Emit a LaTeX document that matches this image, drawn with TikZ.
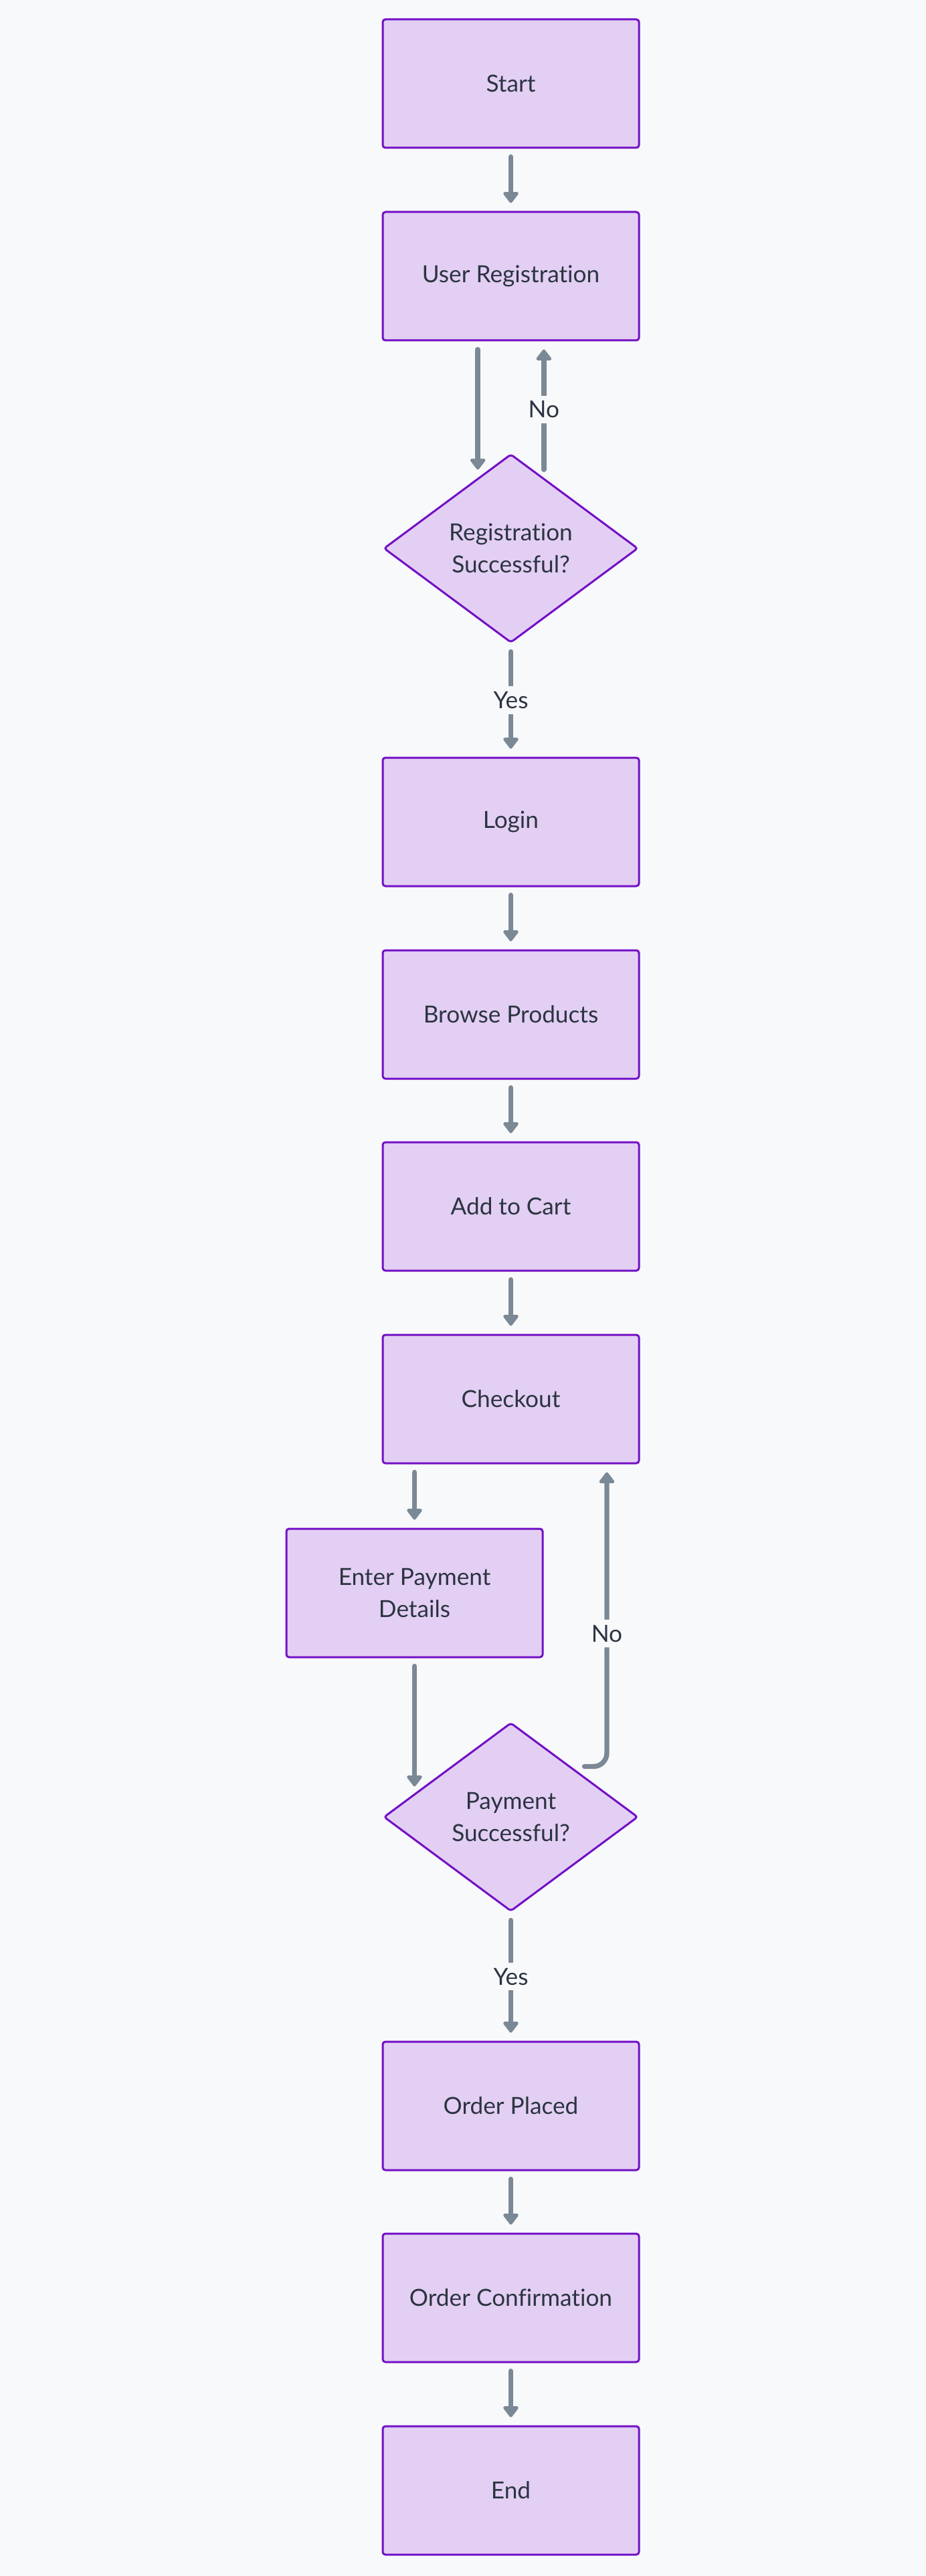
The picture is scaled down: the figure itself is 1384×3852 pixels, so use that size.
\documentclass[tikz,border=0pt]{standalone}
\usepackage{fontspec}
\setmainfont{Lato}[Ligatures=NoCommon]
\usetikzlibrary{shapes.geometric, arrows.meta}
\definecolor{bgcol}{HTML}{F8F9FB}
\definecolor{boxfill}{HTML}{E3CFF3}
\definecolor{boxline}{HTML}{7310C6}
\definecolor{arrowcol}{HTML}{7B8895}
\definecolor{txtcol}{HTML}{2B3441}

\begin{document}
\begin{tikzpicture}[x=0.5pt, y=-0.5pt,
    every node/.style={font=\fontsize{17.6}{24}\selectfont, text=txtcol},
    box/.style={draw=boxline, fill=boxfill, line width=1.5pt, rounded corners=2pt,
        minimum width=191.5pt, minimum height=96pt, align=center},
    decision/.style={diamond, draw=boxline, fill=boxfill, line width=1.5pt, rounded corners=2pt,
        minimum width=190pt, minimum height=141pt, inner sep=0pt, align=center},
    flow/.style={draw=arrowcol, line width=3.7pt, line cap=round,
        -{Triangle[width=13pt, length=9pt, round]}, shorten <=6pt, shorten >=6pt},
    lbl/.style={fill=bgcol, inner sep=4pt}]
        \fill[bgcol] (0,0) rectangle (1384,3852);
        % boxes
        \node[box] (start) at (763.5,125) {Start};
        \node[box] (ureg) at (763.5,413) {User Registration};
        \node[decision] (regq) at (763.5,820) {Registration\\Successful?};
        \node[box] (login) at (763.5,1229) {Login};
        \node[box] (browse) at (763.5,1517) {Browse Products};
        \node[box] (cart) at (763.5,1804) {Add to Cart};
        \node[box] (checkout) at (763.5,2092) {Checkout};
        \node[box] (pay) at (619.5,2382) {Enter Payment\\Details};
        \node[decision] (payq) at (763.5,2717) {Payment\\Successful?};
        \node[box] (placed) at (763.5,3149) {Order Placed};
        \node[box] (confirm) at (763.5,3436) {Order Confirmation};
        \node[box] (end) at (763.5,3724) {End};
        % arrows
        \draw[flow] (start) -- (ureg);
        \draw[flow] (ureg.south -| regq.115) -- (regq.115);
        \draw[flow] (regq.65) -- node[lbl] {No} (regq.65 |- ureg.south);
        \draw[flow] (regq) -- node[lbl] {Yes} (login);
        \draw[flow] (login) -- (browse);
        \draw[flow] (browse) -- (cart);
        \draw[flow] (cart) -- (checkout);
        \draw[flow] (checkout.south -| pay.north) -- (pay.north);
        \draw[flow] (pay.south) -- (pay.south |- payq.167);
        \draw[flow, rounded corners=10pt, shorten <=10pt] (payq.40) -| node[lbl, pos=0.72] {No} ([xshift=71.75pt]checkout.south);
        \draw[flow] (payq) -- node[lbl] {Yes} (placed);
        \draw[flow] (placed) -- (confirm);
        \draw[flow] (confirm) -- (end);
    \end{tikzpicture}
\end{document}
